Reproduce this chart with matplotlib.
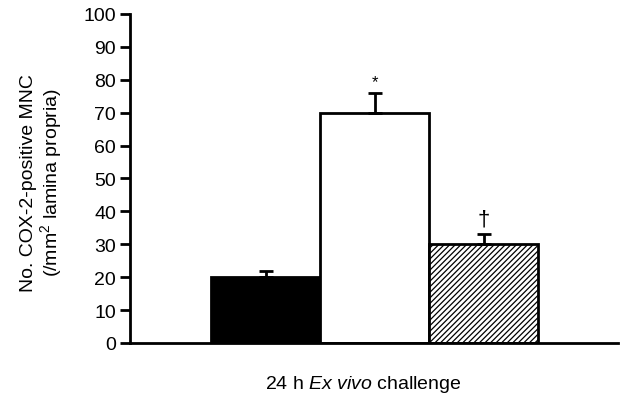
import matplotlib.pyplot as plt

plt.rcParams['font.family'] = ['Liberation Sans', 'DejaVu Sans']
plt.rcParams['hatch.linewidth'] = 0.9
plt.rcParams['mathtext.fontset'] = 'custom'
plt.rcParams['mathtext.rm'] = 'Liberation Sans'
plt.rcParams['mathtext.it'] = 'Liberation Sans:italic'

# data
groups = ['control', 'challenge', 'treated']
values = [20, 70, 30]
errors = [2, 6, 3]
marks = ['', '*', '\u2020']
mark_y = [0, 79.5, 37.7]

colors = ['black', 'white', 'white']
hatches = [None, None, '//////']

fig = plt.figure(figsize=(6.22, 4.02), dpi=100)
ax = fig.add_axes([0.209, 0.1443, 0.785, 0.8184])

pos = list(range(len(groups)))
bars = ax.bar(pos, values, width=1.0, color=colors, edgecolor='black',
              linewidth=2, zorder=2)
for b, h in zip(bars, hatches):
    if h:
        b.set_hatch(h)

# upper error bars only
ax.errorbar(pos, values, yerr=[[0] * len(values), errors], fmt='none',
            ecolor='black', elinewidth=2, capsize=5, capthick=2, zorder=3)

for p, m, y in zip(pos, marks, mark_y):
    if m == '*':
        ax.text(p, y, m, ha='center', va='center', fontsize=12)
    elif m:
        ax.text(p, y, m, ha='center', va='center', fontsize=16)

ax.set_xlim(-1.243, 3.234)
ax.set_ylim(0, 100)
ax.set_yticks(range(0, 101, 10))
ax.set_xticks([])
ax.spines['top'].set_visible(False)
ax.spines['right'].set_visible(False)
ax.spines['left'].set_linewidth(2)
ax.spines['bottom'].set_linewidth(2)
ax.tick_params(axis='y', direction='out', length=7, width=2, labelsize=14, pad=3)

ax.set_ylabel('No. COX-2-positive MNC\n(/mm$^\\mathrm{2}$ lamina propria)', fontsize=14,
              linespacing=1.05, va='center')
ax.yaxis.set_label_coords(-0.18, 0.49)

fig.text(363 / 622, 1 - 385 / 402, '24 h $\\it{Ex\\ vivo}$ challenge',
         fontsize=14, ha='center', va='center')

fig.savefig('out.png', dpi=100)
